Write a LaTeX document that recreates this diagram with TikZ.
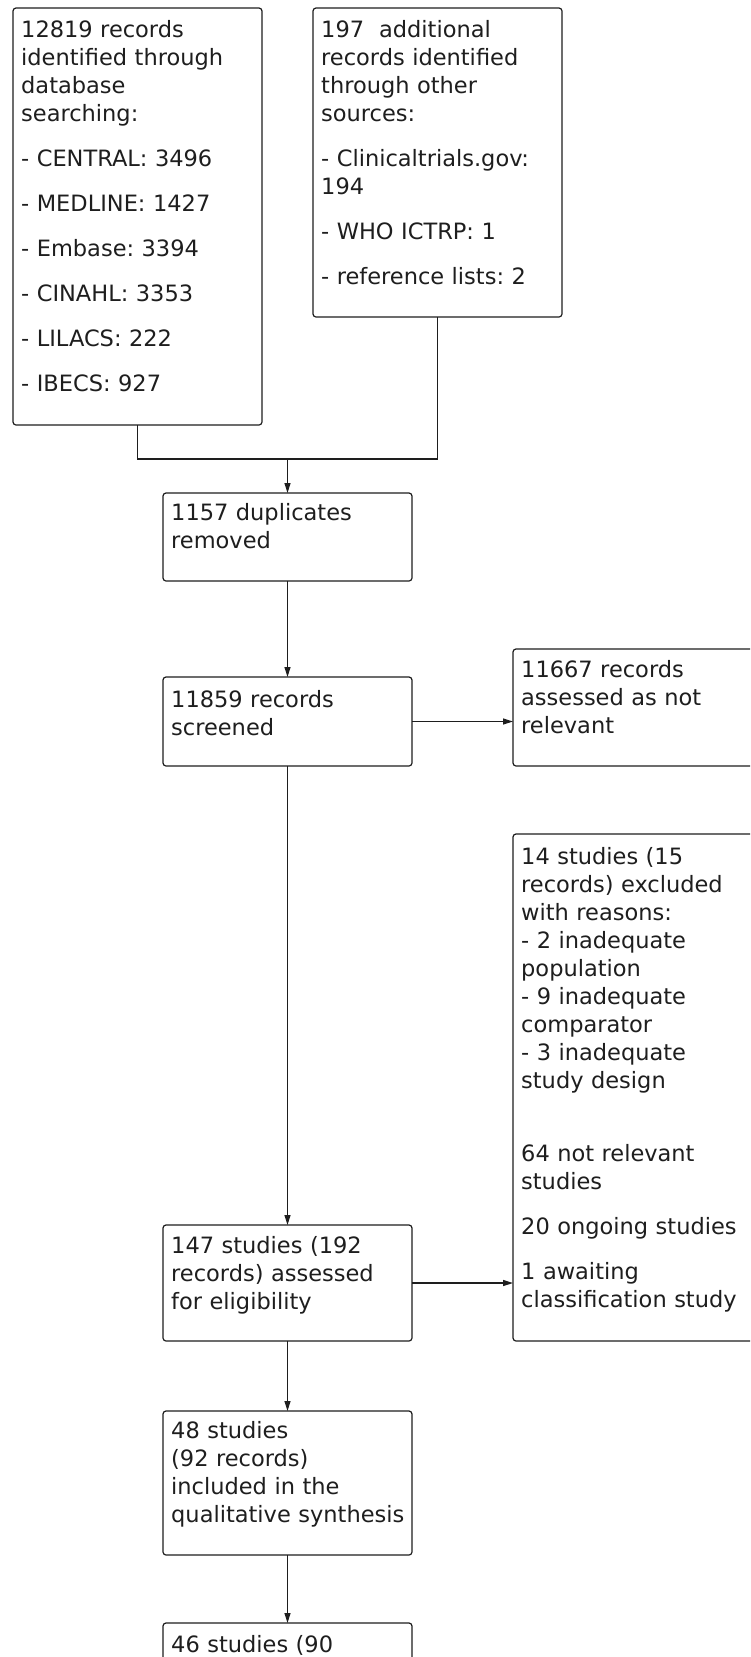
\documentclass[tikz,border=0pt]{standalone}
\usepackage{fontspec}
\setmainfont{DejaVu Sans}
\usetikzlibrary{arrows.meta}
\definecolor{ink}{HTML}{1E1E1E}
\tikzset{
  fbox/.style={draw=ink, line width=1.2pt, rounded corners=3pt, minimum width=249pt, inner sep=0pt, outer sep=0pt},
  ftxt/.style={font=\fontsize{22.5pt}{28pt}\selectfont, text width=300pt, align=left, inner sep=0pt, text=ink},
  link/.style={draw=ink, line width=1.2pt},
  arr/.style={link, -{Triangle[length=10pt,width=6pt]}}
}
\newcommand\flowbx[6]{%
  \node[fbox, minimum height={#4-#3}, anchor=north west] (#1) at (#2,#3) {};
  \node[ftxt, anchor=north west] (#1t) at ({#2+8},{#5-19.6}) {\strut #6};}
\frenchspacing
\begin{document}
\frenchspacing
\begin{tikzpicture}[x=1pt,y=-1pt]
\useasboundingbox (0,0) rectangle (750,1657);
\fill[white] (0,0) rectangle (750,1657);
\clip (0,0) rectangle (750,1657);

\flowbx{b1}{13}{8}{425}{37}{12819 records\\identified through\\database\\searching:\\[17pt]- CENTRAL: 3496\\[17pt]- MEDLINE: 1427\\[17pt]- Embase: 3394\\[17pt]- CINAHL: 3353\\[17pt]- LILACS: 222\\[17pt]- IBECS: 927}
\flowbx{b2}{313}{8}{317}{37}{197\ \ additional\\records identified\\through other\\sources:\\[17pt]- Clinicaltrials.gov:\\194\\[17pt]- WHO ICTRP: 1\\[17pt]- reference lists: 2}
\flowbx{b3}{163}{493}{581}{520}{1157 duplicates\\removed}
\flowbx{b4}{163}{677}{766}{707}{11859 records\\screened}
\flowbx{b5}{513}{649}{766}{677}{11667 records\\assessed as not\\relevant}
\flowbx{b6}{513}{834}{1341}{864}{14 studies (15\\records) excluded\\with reasons:\\- 2 inadequate\\population\\- 9 inadequate\\comparator\\- 3 inadequate\\study design\\[45pt]64 not relevant\\studies\\[17pt]20 ongoing studies\\[17pt]1 awaiting\\classification study}
\flowbx{b7}{163}{1225}{1341}{1253}{147 studies (192\\records) assessed\\for eligibility}
\flowbx{b8}{163}{1411}{1555}{1438}{48 studies\\(92 records)\\included in the\\qualitative synthesis}
\flowbx{b9}{163}{1623}{1740}{1652}{46 studies (90}

\coordinate (j) at (287.5,459);
\draw[link] (b1.south) |- (j);
\draw[link] (b2.south) |- (j);
\draw[arr] (j) -- (b3.north);
\draw[arr] (b3.south) -- (b4.north);
\draw[arr] (b4.east) -- (b4.east -| b5.west);
\draw[arr] (b4.south) -- (b7.north);
\draw[arr] (b7.east) -- (b7.east -| b6.west);
\draw[arr] (b7.south) -- (b8.north);
\draw[arr] (b8.south) -- (b9.north);
\end{tikzpicture}
\end{document}
